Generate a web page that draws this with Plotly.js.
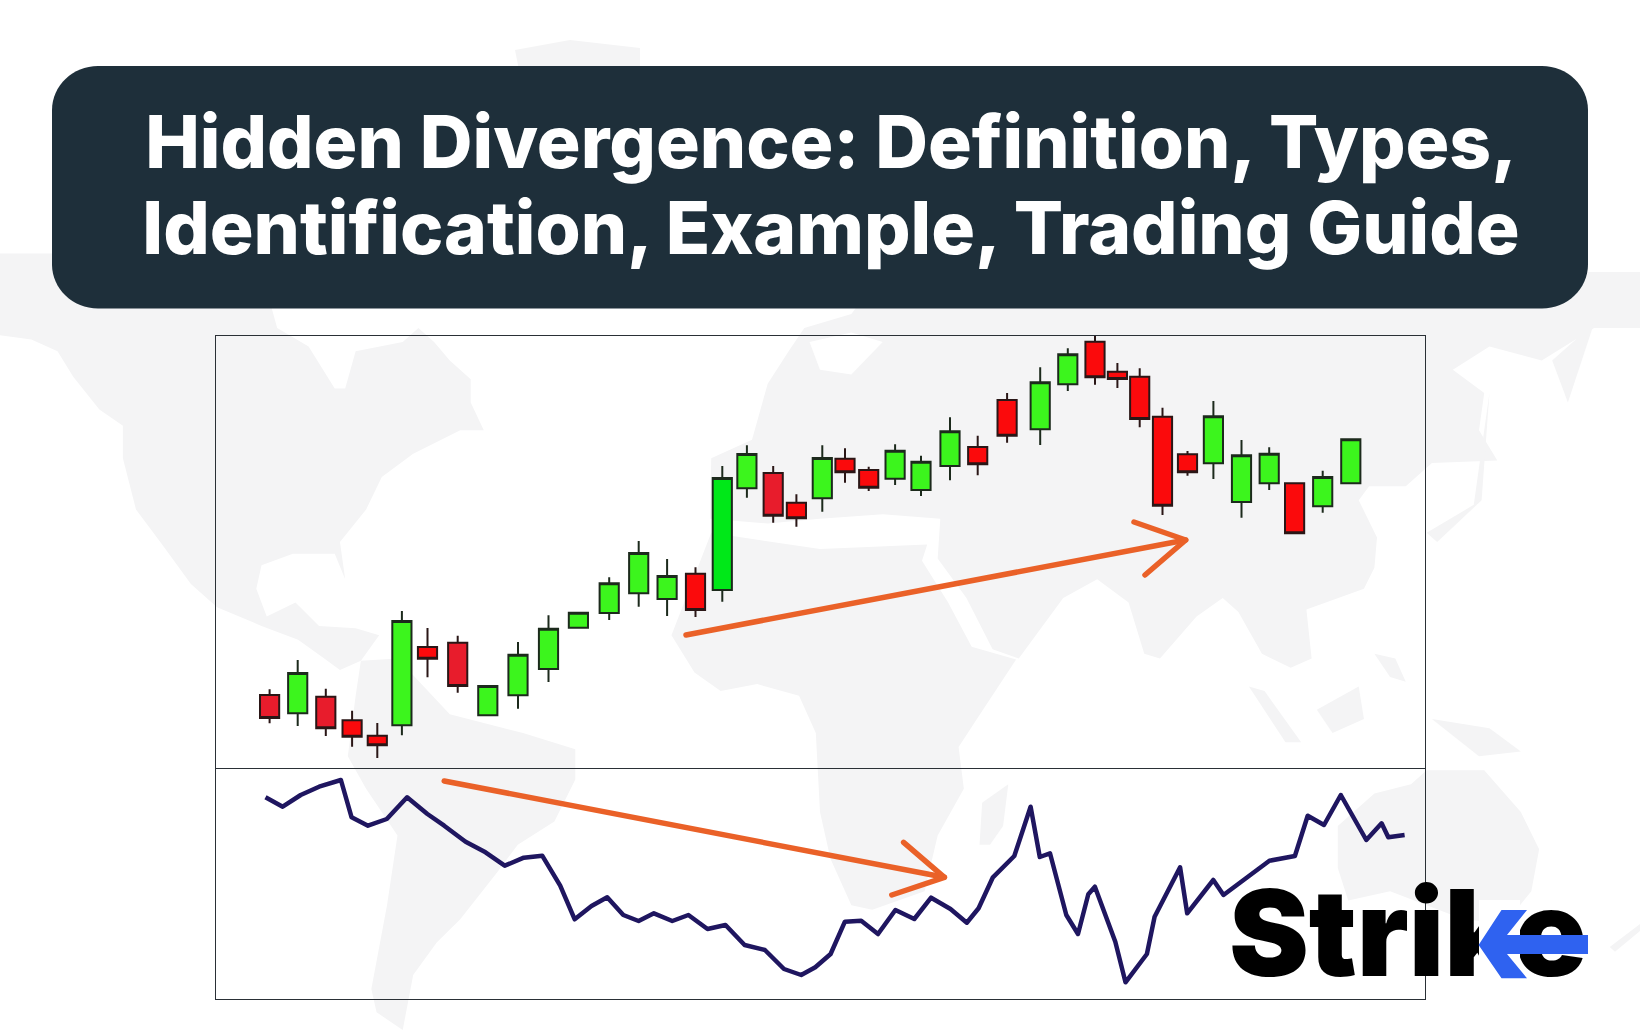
<!DOCTYPE html>
<html><head><meta charset="utf-8">
<script src="https://cdn.plot.ly/plotly-3.0.1.min.js"></script>
<style>html,body{margin:0;padding:0;background:#fff}#c{width:1640px;height:1030px}
.shapelayer path{stroke-linecap:round;stroke-linejoin:round}.js-line{stroke-linejoin:round}</style>
</head><body><div id="c"></div>
<script>
// Candles (price units of the upper panel)
const candleX=[269.6,297.7,325.8,352.1,377.3,401.9,427.5,457.7,487.8,518,548.5,578.4,609.2,638.7,667.1,695.5,722.3,746.9,773.2,796.4,822.3,845,868.7,895.1,921,950,977.7,1007.1,1040.2,1067.8,1095,1117.4,1139.7,1162.5,1187.5,1213.4,1241.5,1269.2,1294.6,1322.7,1350.8];
const open =[73,54.7,71.3,47.7,32.3,42.7,121,125.3,52.7,72.7,99,140.3,155,174.7,169,194.3,178,279.7,295,265.3,269.7,309.3,298,289.3,278,302,321,368,338.7,383.7,426.3,396.3,391.3,351.3,313.7,304.7,266,284.7,284.7,261.7,284.7];
const high =[78.7,108,79.3,57.3,45,157,140,132.3,82,126,152.7,155.3,190.7,227,209,200.7,302,322.7,302,273.7,322.7,319.7,301.3,323.7,312.3,350.7,332.3,375,400.7,419.7,432,405,399.7,360.3,317,367,328,320.7,284.7,297.3,328.7];
const low  =[44.7,42,32,21.3,10,32.7,90.7,75.3,52.7,59.3,86,140.3,148,161.3,152,151,166.3,270.3,245.3,241.3,256.3,285.3,277,283,272,287.7,292.7,325.3,323,377,383.3,380,340.7,253,292.3,289,250.3,278,234.7,255.3,284.7];
const close=[50,95,39.7,31.3,22.7,147,109.3,82,82,113.3,139.3,155.3,184.7,215,192,158,290,314,252.3,249.7,310,295.7,280.3,317.3,306.3,336.7,303.7,332.3,385.7,413.7,390.7,389,349,262.3,295.7,351.7,312.7,314.3,234.7,291,328.7];
// Oscillator line of the lower panel
const oscX=[265.5,282.7,300.7,319.1,340.9,351.6,368,386.8,407.1,427.4,444.2,465.6,485.5,504.7,523.8,542.2,560.2,574.7,591.5,607.2,623.3,638.6,653.9,672.3,688.4,707.5,725.5,744.6,764.9,784,801.2,815.3,830.6,844.9,861.2,878,895.4,914.3,931.1,950.5,966.8,978.6,992.9,1014.3,1030.6,1039.8,1050,1066.3,1078,1088.3,1094.9,1115.3,1125.5,1146.9,1154.6,1180.1,1187.2,1213.3,1223.5,1269.4,1294.9,1307.7,1324,1340.8,1366.3,1381.6,1388.3,1404.6];
const oscY=[201.7,192.3,204,212.3,219,181.7,173.3,180,201.7,185,173.3,157.3,146.7,133.3,141.3,143.3,113.3,79.7,93,101.7,84,78,85.7,78,84,70,74,54,49,30,24,31.7,45,77.3,78.3,65,89,80,101.3,90,76.3,90.7,121.7,143,192.3,142,145.7,84,65,104.7,112.3,57.3,16.7,45,82.3,131.7,85.7,119,104,138.3,143,183.3,174,204,159,175.7,161.7,164];
const titleLines=['Hidden Divergence: Definition, Types,','Identification, Example, Trading Guide'];
const logoText='Strike';

const W=1640,H=1030;
const px=x=>(x/W).toFixed(5), py=y=>(1-y/H).toFixed(5);
const path=pts=>'M'+pts.map(p=>px(p[0])+','+py(p[1])).join(' L')+' Z';
const z7=l=>l.map(p=>[p[0]/1.912,300+p[1]/2.148]);
const z8=l=>l.map(p=>[820+p[0]/1.912,300+p[1]/2.148]);
const land='#f4f4f5';
const polys=[
 // North America
 z7([[-5,-100],[-5,75],[60,85],[110,110],[140,165],[190,235],[235,270],[235,340],[260,450],[310,525],[365,610],[415,660],[500,700],[570,730],[620,770],[650,795],[690,775],[725,720],[680,705],[610,700],[565,650],[510,680],[490,620],[500,570],[560,545],[640,545],[660,600],[650,520],[700,450],[730,380],[790,330],[880,280],[925,280],[900,220],[900,170],[860,130],[830,90],[800,60],[770,90],[680,110],[660,190],[640,190],[590,100],[530,60],[520,20],[540,-100]]),
 // Arctic and Greenland above the banner
 [[335,70],[380,85],[440,70],[520,75],[515,50],[570,40],[640,48],[640,90],[695,95],[600,130],[510,130],[510,100],[335,100]],
 // South America
 z7([[690,775],[760,770],[860,890],[1000,930],[1100,965],[1100,1030],[1060,1120],[990,1170],[950,1230],[880,1330],[835,1380],[790,1450],[770,1568],[720,1530],[710,1480],[740,1300],[760,1150],[700,1050],[665,980],[680,850]]),
 // Eurasia
 z8([[-208,340],[-130,300],[-100,180],[-60,110],[-30,60],[60,30],[120,-60],[1568,-60],[1568,60],[1480,60],[1380,130],[1280,100],[1210,150],[1270,200],[1260,280],[1295,345],[1170,350],[1120,400],[1050,400],[1030,430],[1065,510],[1060,575],[1040,620],[930,665],[940,770],[900,790],[845,760],[800,670],[770,640],[720,680],[650,770],[620,760],[590,650],[530,600],[465,640],[380,770],[330,750],[280,640],[225,555],[230,470],[120,460],[0,470],[-100,480],[-210,470]]),
 // Africa
 z8([[-208,500],[0,535],[205,525],[195,560],[245,650],[290,745],[375,772],[300,900],[265,960],[275,1050],[225,1150],[200,1270],[100,1310],[60,1300],[20,1200],[0,1100],[-8,930],[-40,850],[-120,825],[-190,840],[-240,800],[-284,720]]),
 // Madagascar, Australia, New Guinea, Borneo, Sumatra, Japan, Kamchatka, New Zealand, Philippines
 z8([[305,1170],[310,1080],[360,1040],[350,1130],[325,1170]]),
 z8([[990,1130],[1060,1060],[1130,1040],[1160,1010],[1270,1010],[1340,1100],[1375,1180],[1360,1270],[1310,1340],[1230,1330],[1090,1270],[1010,1290],[990,1220]]),
 z8([[1170,900],[1280,920],[1340,970],[1260,980]]),
 z8([[950,880],[1030,830],[1040,900],[980,930]]),
 z8([[820,830],[850,840],[920,950],[890,950]]),
 z8([[1160,500],[1250,440],[1280,200],[1265,430],[1180,520]]),
 z8([[1400,130],[1480,50],[1430,220]]),
 z8([[1510,1390],[1568,1340],[1568,1355],[1520,1400]]),
 z8([[1060,760],[1100,770],[1120,820],[1090,810]])
];
const mapShapes=polys.map(p=>({type:'path',layer:'below',xref:'paper',yref:'paper',path:path(p),fillcolor:land,line:{width:0}}));
// white seas
mapShapes.push({type:'path',layer:'below',xref:'paper',yref:'paper',path:path(z8([[-20,90],[60,70],[120,90],[60,160],[0,150]])),fillcolor:'#fff',line:{width:0}});

// banner
const bL=52,bR=1588,bT=66,bB=308.5,rx=46,ry=44;
const banner=`M${px(bL+rx)},${py(bT)} L${px(bR-rx)},${py(bT)} C${px(bR-rx*.45)},${py(bT)} ${px(bR)},${py(bT+ry*.45)} ${px(bR)},${py(bT+ry)} L${px(bR)},${py(bB-ry)} C${px(bR)},${py(bB-ry*.45)} ${px(bR-rx*.45)},${py(bB)} ${px(bR-rx)},${py(bB)} L${px(bL+rx)},${py(bB)} C${px(bL+rx*.45)},${py(bB)} ${px(bL)},${py(bB-ry*.45)} ${px(bL)},${py(bB-ry)} L${px(bL)},${py(bT+ry)} C${px(bL)},${py(bT+ry*.45)} ${px(bL+rx*.45)},${py(bT)} ${px(bL+rx)},${py(bT)} Z`;

const orange='#ea6128';
const arrow=(a)=>({type:'path',xref:'paper',yref:'paper',path:'M'+a.map(p=>px(p[0])+','+py(p[1])).join(' L'),line:{color:orange,width:5.5}});
const overlays=[
 arrow([[686,635],[1185.7,540]]),arrow([[1134,522],[1185.7,540],[1145,575]]),
 arrow([[444.2,781],[944.4,877.3]]),arrow([[903.6,842.3],[944.4,877.3],[891.8,895]]),
 // logo: the arms of the k are replaced by the blue arrow
 {type:'rect',xref:'paper',yref:'paper',x0:px(1479),x1:px(1520),y0:py(985),y1:py(900),fillcolor:'#fff',line:{width:0}},
 {type:'path',xref:'paper',yref:'paper',path:path([[1501.5,910],[1527,910],[1507,935],[1588,935],[1588,954],[1507,954],[1527,978.3],[1501.5,978.3],[1478.6,945]]),fillcolor:'#2f62f0',line:{width:0}}
];

const subset=(idx)=>({x:idx.map(i=>candleX[i]),open:idx.map(i=>open[i]),high:idx.map(i=>high[i]),low:idx.map(i=>low[i]),close:idx.map(i=>close[i])});
const all=candleX.map((_,i)=>i), crimson=[0,2,7,18], bright=[16];
const rest=all.filter(i=>!crimson.includes(i)&&!bright.includes(i));
const stick=(idx,up,down)=>Object.assign(subset(idx),{type:'candlestick',xaxis:'x',yaxis:'y',showlegend:false,hoverinfo:'skip',
  increasing:{fillcolor:up,line:{color:'#1c2a1c',width:2}},decreasing:{fillcolor:down,line:{color:'#2a1616',width:2}}});
const traces=[
 stick(rest,'#3cf51d','#fb0a0c'),
 stick(crimson,'#3cf51d','#e81c2c'),
 stick(bright,'#00e818','#fb0a0c'),
 {type:'scatter',mode:'lines',x:oscX,y:oscY,xaxis:'x2',yaxis:'y2',line:{color:'#1f1660',width:4.5},showlegend:false,hoverinfo:'skip'},
 {type:'scatter',mode:'text',x:[1408],y:[946],text:[logoText],xaxis:'x3',yaxis:'y3',textposition:'middle center',cliponaxis:false,
  textfont:{family:'Inter',size:120,color:'#000',weight:900},showlegend:false,hoverinfo:'skip'}
];
const frame={showline:true,mirror:true,linecolor:'#2a3036',linewidth:1,showgrid:false,zeroline:false,showticklabels:false,ticks:'',fixedrange:true};
const dx=[215.5/W,1424.5/W];
const layout={width:W,height:H,margin:{l:0,r:0,t:0,b:0},paper_bgcolor:'#fff',plot_bgcolor:'rgba(0,0,0,0)',showlegend:false,
 boxmode:'overlay',boxgap:0.14,boxgroupgap:0,
 title:{text:titleLines.join('<br>'),x:831/W,xanchor:'center',xref:'paper',y:1-168/H,yanchor:'top',yref:'paper',font:{family:'Inter',size:73,color:'#fff',weight:800}},
 xaxis:Object.assign({domain:dx,range:[215.5,1424.5],rangeslider:{visible:false},anchor:'y',type:'linear'},frame),
 yaxis:Object.assign({domain:[(H-767.5)/H,(H-335.5)/H],range:[0.5,432.5],anchor:'x'},frame),
 xaxis2:Object.assign({},frame,{domain:dx,range:[215.5,1424.5],anchor:'y2',mirror:false}),
 yaxis2:Object.assign({domain:[(H-999)/H,(H-767.5)/H],range:[0,231.5],anchor:'x2'},frame),
 xaxis3:{domain:[0,1],range:[0,W],anchor:'y3',visible:false,fixedrange:true},
 yaxis3:{domain:[0,1],range:[H,0],anchor:'x3',visible:false,fixedrange:true},
 shapes:mapShapes.concat([{type:'path',layer:'below',xref:'paper',yref:'paper',path:banner,fillcolor:'#1e2f3a',line:{width:0}}],overlays)
};
Plotly.newPlot('c',traces,layout,{displayModeBar:false,staticPlot:true}).then(()=>{
  // the banner's two lines sit closer together than the default 1.3em
  const ls=document.querySelectorAll('.gtitle tspan.line');
  if(ls.length>1) ls[1].setAttribute('dy',(86/73).toFixed(3)+'em');
});
</script></body></html>
